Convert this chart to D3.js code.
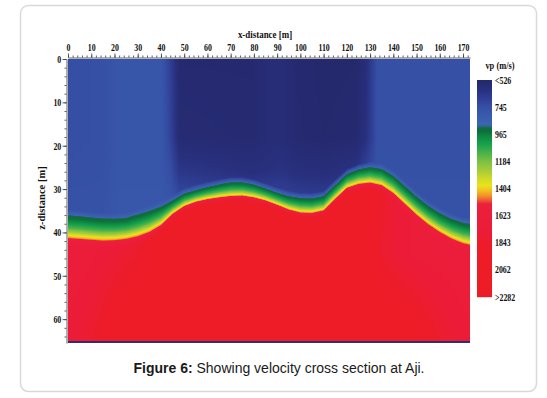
<!DOCTYPE html>
<html>
<head>
<meta charset="utf-8">
<script src="https://cdn.jsdelivr.net/npm/d3@7/dist/d3.min.js"></script>
<style>
  body { margin: 0; background: #fff; }
  svg { display: block; }
</style>
</head>
<body>
<div id="chart"></div>
<script>
// Interface depths (m) along the section
var xsIface = [0, 5, 10, 15, 20, 25, 30, 35, 40, 45, 50, 55, 60, 65, 70, 75, 80, 85,
               90, 95, 100, 105, 110, 115, 120, 125, 130, 135, 140, 145, 150, 155, 160, 165, 170, 175];
// top of the green band (blue/green edge)
var greenTop = [36.0, 36.2, 36.5, 36.7, 36.8, 36.6, 35.8, 35.0, 34.0, 32.6, 31.0, 30.2, 29.5, 28.9, 28.4, 28.4, 28.9, 29.8,
                30.8, 31.6, 32.0, 32.1, 31.6, 29.0, 26.5, 25.4, 24.9, 25.3, 26.9, 29.3, 31.7, 33.8, 35.5, 36.8, 37.7, 38.2];
// top of the red layer (yellow/red edge)
var redTop = [41.4, 41.6, 41.8, 42.0, 41.9, 41.6, 41.0, 40.0, 38.4, 35.8, 34.0, 33.0, 32.4, 32.0, 31.7, 31.6, 32.0, 32.7,
              33.7, 34.8, 35.5, 35.6, 35.0, 32.3, 29.8, 28.9, 28.6, 29.2, 31.0, 33.5, 36.0, 38.2, 40.0, 41.5, 42.6, 43.2];

// Upper (slow) layer velocities, rows by depth
var xsTop = [0, 15, 22, 40, 44, 48, 80, 86, 92, 98, 110, 124, 128, 133, 150, 175];
var topZ = [0, 18, 26, 34];
var topVp = [
  [740, 745, 785, 785, 680, 545, 545, 575, 580, 545, 530, 535, 580, 745, 745, 745],
  [740, 745, 785, 785, 700, 560, 550, 575, 580, 550, 535, 545, 600, 745, 745, 745],
  [745, 750, 785, 785, 740, 640, 600, 610, 620, 600, 590, 620, 690, 755, 750, 750],
  [760, 760, 790, 790, 780, 750, 720, 720, 720, 700, 690, 720, 760, 770, 760, 760]
];

// Lower (fast) layer velocities, rows by depth
var xsDeep = [0, 10, 20, 30, 40, 50, 120, 130, 140, 150, 160, 175];
var deepZ = [30, 45, 66];
var deepVp = [
  [1640, 1660, 1700, 1760, 1880, 2000, 2000, 1900, 1780, 1700, 1660, 1640],
  [1650, 1700, 1760, 1820, 1950, 2000, 2000, 1870, 1760, 1700, 1680, 1650],
  [1750, 1820, 1950, 2050, 2050, 2050, 2050, 2050, 2000, 1940, 1830, 1720]
];

// Velocity across the transition band (0 = green top, 1 = red top)
var bandT = [0, 0.25, 0.55, 0.75, 0.87, 0.94, 1];
var bandVp = [905, 980, 1120, 1280, 1380, 1440, 1530];

// Colour scale stops
var colorVp = [526, 600, 680, 745, 820, 880, 900, 915, 940, 985, 1040, 1110, 1184, 1260, 1330, 1380,
               1420, 1460, 1500, 1530, 1750, 1850, 2282];
var colorHex = ["#24286c", "#282f7c", "#2f3f95", "#3550a5", "#3a5bad", "#3d64b3", "#2e6a8c", "#136b45",
                "#0f6d3a", "#0f8a42", "#15a04b", "#45b04a", "#7cc043", "#a6cc3a", "#d2db27", "#e8e31c",
                "#f3c01f", "#f3952a", "#ef5634", "#ec1f3d", "#ec1c38", "#ed1c28", "#ed1c24"];

var xTicks = d3.range(0, 171, 10);
var zTicks = d3.range(0, 61, 10);
var cbValues = [526, 745, 965, 1184, 1404, 1623, 1843, 2062, 2282];
var cbLabels = ["<526", "745", "965", "1184", "1404", "1623", "1843", "2062", ">2282"];

var width = 547, height = 398;
var serif = "'Liberation Serif', 'Times New Roman', serif";

var svg = d3.select("#chart").append("svg")
    .attr("width", width)
    .attr("height", height);

// outer frame
svg.append("rect")
    .attr("x", 20.5).attr("y", 5.5)
    .attr("width", 516).attr("height", 386)
    .attr("rx", 8)
    .attr("fill", "none")
    .attr("stroke", "#d9d9d9")
    .attr("stroke-width", 1.5);

var x = d3.scaleLinear().domain([0, 173]).range([68, 470]);
var z = d3.scaleLinear().domain([0, 65.5]).range([59, 343]);

var color = d3.scaleLinear().domain(colorVp).range(colorHex)
    .interpolate(d3.interpolateRgb).clamp(true);

// lookup table so the raster loop stays cheap
var lut = {};
d3.range(500, 2301).forEach(function (v) {
    var c = d3.rgb(color(v));
    lut[v] = [c.r, c.g, c.b];
});

var gScale = d3.scaleLinear().domain(xsIface).range(greenTop).clamp(true);
var rScale = d3.scaleLinear().domain(xsIface).range(redTop).clamp(true);
var bScale = d3.scaleLinear().domain(bandT).range(bandVp).clamp(true);
var topRows = topVp.map(function (r) { return d3.scaleLinear().domain(xsTop).range(r).clamp(true); });
var deepRows = deepVp.map(function (r) { return d3.scaleLinear().domain(xsDeep).range(r).clamp(true); });

// raster of the velocity section
var px0 = Math.round(x(0)), px1 = Math.round(x(173));
var py0 = Math.round(z(0)), py1 = Math.round(z(65.5));
var cw = px1 - px0, ch = py1 - py0;
var canvas = document.createElement("canvas");
canvas.width = cw; canvas.height = ch;
var ctx = canvas.getContext("2d");
var img = ctx.createImageData(cw, ch);

for (var i = 0; i < cw; i++) {
    var xv = x.invert(px0 + i + 0.5);
    var gT = gScale(xv), rT = rScale(xv);
    var topCol = d3.scaleLinear().domain(topZ).range(topRows.map(function (s) { return s(xv); })).clamp(true);
    var deepCol = d3.scaleLinear().domain(deepZ).range(deepRows.map(function (s) { return s(xv); })).clamp(true);
    for (var j = 0; j < ch; j++) {
        var zv = z.invert(py0 + j + 0.5);
        var v;
        if (zv < gT) {
            var vt = topCol(zv), d = gT - zv;
            v = d < 1.2 ? vt + (885 - vt) * (1 - d / 1.2) : vt;
        } else if (zv < rT) {
            v = bScale((zv - gT) / (rT - gT));
        } else {
            var vd = deepCol(zv), dd = zv - rT;
            v = dd < 1.5 ? 1530 + (vd - 1530) * (dd / 1.5) : vd;
        }
        var c = lut[Math.max(500, Math.min(2300, Math.round(v)))];
        var k = (j * cw + i) * 4;
        img.data[k] = c[0]; img.data[k + 1] = c[1]; img.data[k + 2] = c[2]; img.data[k + 3] = 255;
    }
}
ctx.putImageData(img, 0, 0);

svg.append("image")
    .attr("x", px0).attr("y", py0)
    .attr("width", cw).attr("height", ch)
    .attr("preserveAspectRatio", "none")
    .attr("href", canvas.toDataURL());

// thin dark strip at the model base
svg.append("rect")
    .attr("x", px0).attr("y", py1 - 2)
    .attr("width", cw).attr("height", 2)
    .attr("fill", "#2b2f7a");

// top axis
var topAxisY = 57.5;
svg.append("g")
    .attr("transform", "translate(0," + topAxisY + ")")
    .call(d3.axisTop(x).tickValues(d3.range(0, 173, 2)).tickSize(2).tickSizeOuter(0).tickFormat(""))
    .call(function (g) { g.selectAll("line,path").attr("stroke", "#333").attr("stroke-width", 0.8); });

var xAxis = svg.append("g")
    .attr("transform", "translate(0," + topAxisY + ")")
    .call(d3.axisTop(x).tickValues(xTicks).tickSize(4).tickSizeOuter(0).tickPadding(3));
xAxis.select(".domain").remove();
xAxis.selectAll("line").attr("stroke", "#333").attr("stroke-width", 0.8);
xAxis.selectAll("text")
    .attr("font-family", serif).attr("font-weight", "bold").attr("font-size", 10.5)
    .attr("fill", "#111")
    .attr("transform", "scale(0.75,1)");

// left axis
var leftAxisX = 66.5;
svg.append("g")
    .attr("transform", "translate(" + leftAxisX + ",0)")
    .call(d3.axisLeft(z).tickValues(d3.range(0, 66, 2)).tickSize(2).tickSizeOuter(0).tickFormat(""))
    .call(function (g) { g.selectAll("line,path").attr("stroke", "#333").attr("stroke-width", 0.8); });

var zAxis = svg.append("g")
    .attr("transform", "translate(" + leftAxisX + ",0)")
    .call(d3.axisLeft(z).tickValues(zTicks).tickSize(4).tickSizeOuter(0).tickPadding(3));
zAxis.select(".domain").remove();
zAxis.selectAll("line").attr("stroke", "#333").attr("stroke-width", 0.8);
zAxis.selectAll("text")
    .attr("font-family", serif).attr("font-weight", "bold").attr("font-size", 10.5)
    .attr("fill", "#111")
    .attr("transform", "scale(0.75,1)");

// axis titles
svg.append("text")
    .attr("transform", "translate(265,38) scale(0.85,1)")
    .attr("text-anchor", "middle")
    .attr("font-family", serif).attr("font-weight", "bold").attr("font-size", 10.5)
    .attr("fill", "#111")
    .text("x-distance [m]");

svg.append("text")
    .attr("transform", "translate(45,198) rotate(-90)")
    .attr("text-anchor", "middle")
    .attr("font-family", serif).attr("font-weight", "bold").attr("font-size", 10.5)
    .attr("fill", "#111")
    .text("z-distance [m]");

// colour bar
var cb = d3.scaleLinear().domain([526, 2282]).range([80, 297]);
var cbX = 477, cbW = 15;
svg.append("g").selectAll("rect")
    .data(d3.range(80, 297))
    .join("rect")
    .attr("x", cbX).attr("y", function (d) { return d; })
    .attr("width", cbW).attr("height", 1.2)
    .attr("fill", function (d) { return color(cb.invert(d + 0.5)); });

svg.append("g").selectAll("text")
    .data(cbValues)
    .join("text")
    .attr("transform", function (d) { return "translate(495," + cb(d) + ") scale(0.75,1)"; })
    .attr("dy", "0.35em")
    .attr("font-family", serif).attr("font-weight", "bold").attr("font-size", 10.5)
    .attr("fill", "#111")
    .text(function (d, i) { return cbLabels[i]; });

svg.append("text")
    .attr("transform", "translate(500,69) scale(0.8,1)")
    .attr("text-anchor", "middle")
    .attr("font-family", serif).attr("font-weight", "bold").attr("font-size", 10.5)
    .attr("fill", "#111")
    .text("vp (m/s)");

// caption
var cap = svg.append("text")
    .attr("x", 279).attr("y", 373)
    .attr("text-anchor", "middle")
    .attr("font-family", "'Liberation Sans', Arial, sans-serif")
    .attr("font-size", 14)
    .attr("fill", "#1a1a1a");
cap.append("tspan").attr("font-weight", "bold").text("Figure 6:");
cap.append("tspan").text(" Showing velocity cross section at Aji.");
</script>
</body>
</html>
